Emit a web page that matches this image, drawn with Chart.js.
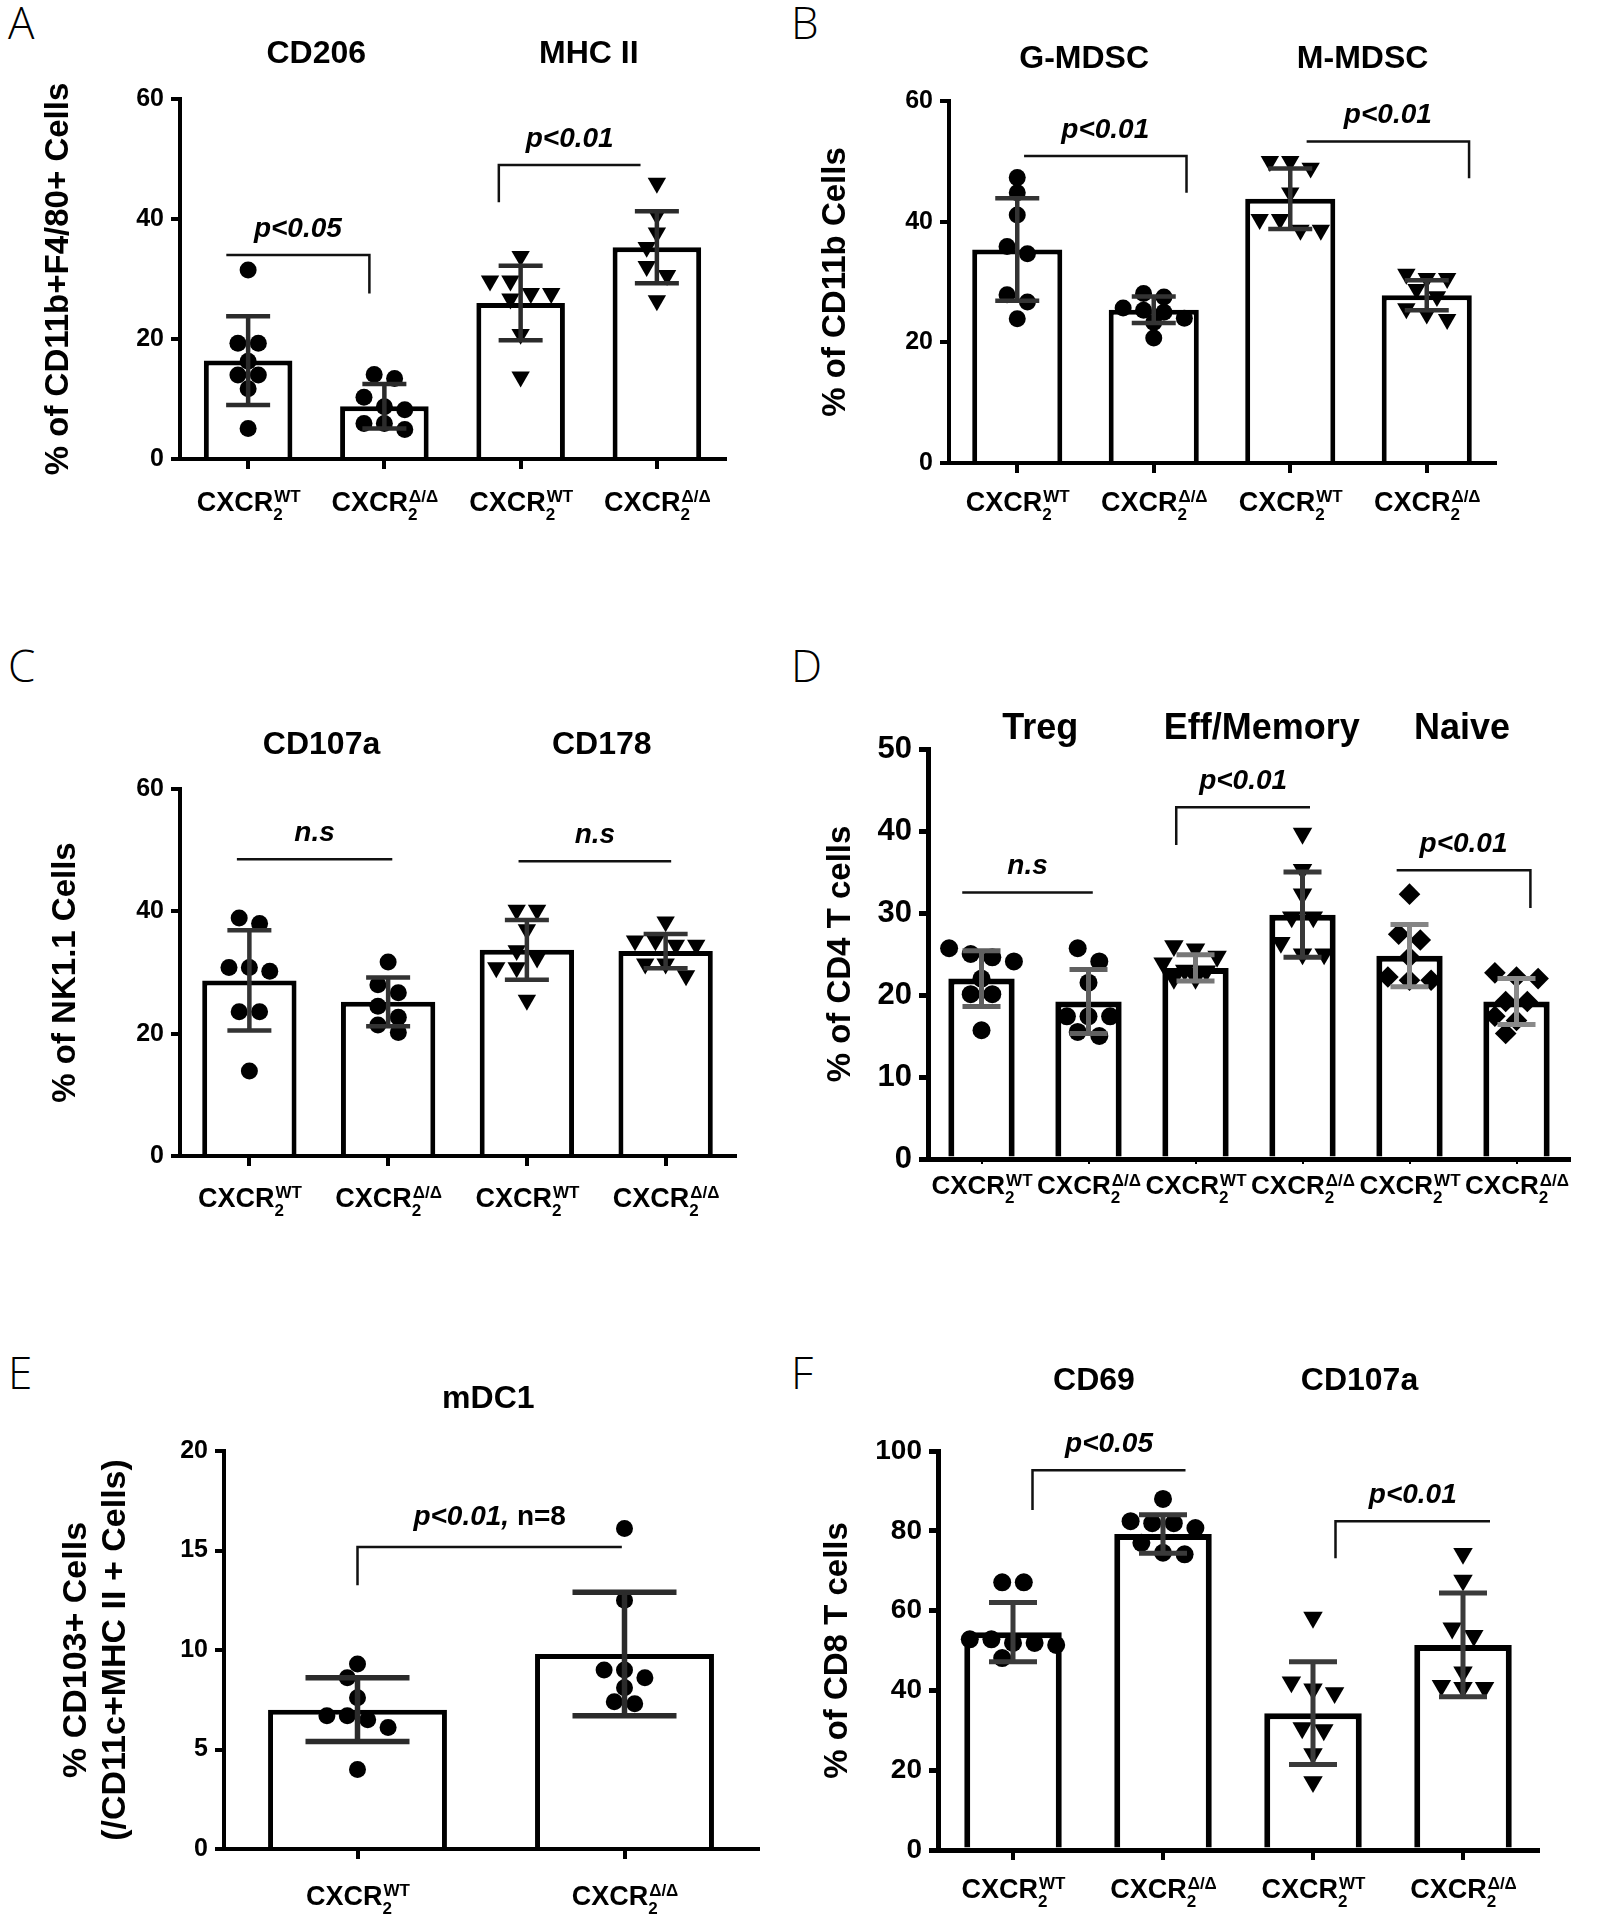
<!DOCTYPE html>
<html>
<head>
<meta charset="utf-8">
<script src="https://cdn.jsdelivr.net/npm/chart.js@4.4.1/dist/chart.umd.min.js"></script>
<style>
  body { margin: 0; background: #fff; }
  #fig { position: relative; width: 1601px; height: 1920px; background: #fff; }
  canvas { position: absolute; }
  .letter { position: absolute; font-family: "Open Sans", "DejaVu Sans", sans-serif; font-weight: 300; font-size: 44px; line-height: 44px; color: #000; }
</style>
</head>
<body>
<div id="fig">
  <div class="letter" style="left:8px;top:0px">A</div>
  <div class="letter" style="left:791px;top:0px">B</div>
  <div class="letter" style="left:8px;top:643px">C</div>
  <div class="letter" style="left:791px;top:643px">D</div>
  <div class="letter" style="left:8px;top:1350px">E</div>
  <div class="letter" style="left:791px;top:1350px">F</div>
  <canvas id="cA" width="800" height="540" style="left:0px;top:0px"></canvas>
  <canvas id="cB" width="801" height="540" style="left:800px;top:0px"></canvas>
  <canvas id="cC" width="800" height="600" style="left:0px;top:640px"></canvas>
  <canvas id="cD" width="801" height="600" style="left:800px;top:640px"></canvas>
  <canvas id="cE" width="800" height="580" style="left:0px;top:1340px"></canvas>
  <canvas id="cF" width="801" height="580" style="left:800px;top:1340px"></canvas>
</div>
<script>
// genotype superscripts, repeated across each pair of bars
const genotypes = ["WT", "Δ/Δ"];

// A: macrophages
const aGroups = ["CD206", "MHC II"];
const aMeans = [16.4, 8.8, 26.0, 35.3];
const aSD = [7.4, 3.7, 6.2, 6.0];
const aPoints = [
    [31.5, 19.3, 19.3, 16.3, 14.0, 14.0, 11.7, 5.1],
    [14.1, 13.4, 10.3, 8.7, 8.2, 5.9, 5.9, 4.9],
    [33.8, 29.7, 29.7, 27.6, 27.6, 26.7, 20.8, 13.7],
    [46.0, 40.7, 37.7, 35.3, 32.1, 30.6, 26.4]
];
const aTicks = [0, 20, 40, 60];
// [from, to, y, drop side, drop to, italic text, plain text]
const aSig = [
    [-0.16, 0.89, 34.0, "right", 27.6, "p<0.05", ""],
    [1.84, 2.88, 49.0, "left", 42.8, "p<0.01", ""]
];

// B: MDSC
const bGroups = ["G-MDSC", "M-MDSC"];
const bMeans = [35.4, 25.4, 43.8, 27.8];
const bSD = [8.5, 2.2, 5.0, 2.5];
const bPoints = [
    [47.3, 44.8, 41.1, 35.9, 34.7, 27.9, 26.7, 23.9],
    [28.1, 27.5, 25.7, 25.3, 25.0, 24.0, 23.3, 20.7],
    [50.0, 50.0, 48.9, 44.8, 40.4, 40.4, 38.6, 38.6],
    [31.3, 30.6, 30.6, 28.8, 27.6, 25.6, 24.7, 23.8]
];
const bTicks = [0, 20, 40, 60];
const bSig = [
    [0.05, 1.24, 50.9, "right", 44.8, "p<0.01", ""],
    [2.12, 3.31, 53.3, "right", 47.2, "p<0.01", ""]
];

// C: NK cells
const cGroups = ["CD107a", "CD178"];
const cMeans = [28.7, 25.2, 33.7, 33.5];
const cSD = [8.2, 4.0, 4.9, 2.8];
const cPoints = [
    [38.9, 38.0, 30.8, 30.8, 30.2, 23.6, 23.6, 13.9],
    [31.7, 28.0, 26.7, 24.5, 22.7, 21.4, 20.2],
    [40.2, 40.2, 37.0, 33.6, 32.4, 30.8, 30.8, 25.5],
    [38.3, 35.2, 35.2, 34.5, 34.5, 31.4, 31.4, 29.5]
];
const cTicks = [0, 20, 40, 60];
const cSig = [
    [-0.09, 1.03, 48.5, null, null, "n.s", ""],
    [1.94, 3.04, 48.2, null, null, "n.s", ""]
];

// D: CD4 T cells
const dGroups = ["Treg", "Eff/Memory", "Naive"];
const dMeans = [22.0, 19.2, 23.3, 29.8, 24.8, 19.2];
const dSD = [3.4, 3.9, 1.6, 5.2, 3.8, 2.8];
const dPoints = [
    [25.7, 25.0, 24.6, 24.1, 22.0, 20.1, 20.1, 15.7],
    [25.7, 24.1, 21.5, 17.4, 17.4, 17.4, 15.5, 15.0],
    [26.0, 25.6, 24.7, 23.9, 23.0, 22.9, 22.0, 22.0],
    [39.7, 35.3, 32.3, 29.5, 29.5, 26.4, 25.0, 25.0],
    [32.3, 27.4, 26.7, 24.6, 22.2, 21.8, 21.8],
    [22.7, 22.2, 22.0, 19.2, 19.2, 17.4, 16.9, 15.3]
];
const dTicks = [0, 10, 20, 30, 40, 50];
const dSig = [
    [-0.18, 1.04, 32.5, null, null, "n.s", ""],
    [1.82, 3.07, 42.9, "left", 38.3, "p<0.01", ""],
    [3.88, 5.13, 35.2, "right", 30.6, "p<0.01", ""]
];

// E: mDC1
const eGroups = ["mDC1"];
const eMeans = [7.0, 9.8];
const eSD = [1.6, 3.1];
const ePoints = [
    [9.3, 8.6, 7.6, 6.7, 6.7, 6.5, 6.1, 4.0],
    [16.1, 12.5, 9.0, 9.0, 8.6, 8.1, 7.4, 7.3]
];
const eTicks = [0, 5, 10, 15, 20];
const eSig = [
    [0, 0.99, 15.17, "left", 13.26, "p<0.01,", " n=8"]
];

// F: CD8 T cells
const fGroups = ["CD69", "CD107a"];
const fMeans = [54.6, 79.2, 34.3, 51.4];
const fSD = [7.4, 4.8, 12.9, 13.0];
const fPoints = [
    [67.1, 67.1, 52.8, 52.8, 51.9, 51.9, 51.4, 48.1],
    [88.0, 82.4, 81.9, 81.9, 80.7, 77.0, 74.5, 74.1],
    [58.3, 42.1, 40.3, 39.4, 30.6, 30.1, 24.1, 17.1],
    [74.3, 67.6, 55.6, 53.7, 44.6, 41.2, 40.7, 40.7]
];
const fTicks = [0, 20, 40, 60, 80, 100];
const fSig = [
    [0.13, 1.15, 95.2, "left", 85.2, "p<0.05", ""],
    [2.15, 3.18, 82.4, "left", 73.1, "p<0.01", ""]
];

const FONT = '"Liberation Sans", Arial, Helvetica, sans-serif';

const MARKERS = {
    dot: { style: "circle", rot: 0, scale: 1 },
    tri: { style: "triangle", rot: 180, scale: 1.25 },
    dia: { style: "rectRot", rot: 0, scale: 1.2 }
};

// spread the dots of one column sideways, row by row, so they do not overlap much
function swarm(values, center, pxY, pxCat, diam) {
    const step = diam * 1.2;
    const minDist = diam * 0.85;
    const sorted = values.slice().sort((a, b) => b - a);
    const rows = [];
    sorted.forEach(v => {
        const last = rows[rows.length - 1];
        if (last && (last[0] - v) * pxY < diam * 0.75) last.push(v);
        else rows.push([v]);
    });
    const placed = [];
    const shifts = [0, -0.5, 0.5, -1, 1];
    rows.forEach(row => {
        const k = row.length;
        let best = null, bestCost = Infinity;
        for (const sh of shifts) {
            const xs = row.map((v, j) => (j - (k - 1) / 2 + sh) * step);
            let cost = 0;
            row.forEach((v, j) => placed.forEach(q => {
                const d = Math.hypot(xs[j] - q.x, (v - q.v) * pxY);
                if (d < minDist) cost += minDist - d;
            }));
            if (cost === 0) { best = xs; break; }
            if (cost < bestCost) { bestCost = cost; best = xs; }
        }
        row.forEach((v, j) => placed.push({ x: best[j], v: v }));
    });
    return placed.map(q => ({ x: center + q.x / pxCat, y: q.v }));
}

function drawGenotype(ctx, cx, cy, sup, size) {
    const big = "bold " + size + "px " + FONT;
    const small = "bold " + Math.round(size * 0.64) + "px " + FONT;
    ctx.font = big;
    const w1 = ctx.measureText("CXCR").width;
    ctx.font = small;
    const w2 = Math.max(ctx.measureText("2").width, ctx.measureText(sup).width);
    const x0 = cx - (w1 + w2) / 2;
    const base = cy + size * 0.36;
    ctx.textAlign = "left";
    ctx.textBaseline = "alphabetic";
    ctx.font = big;
    ctx.fillText("CXCR", x0, base);
    ctx.font = small;
    ctx.fillText("2", x0 + w1, base + size * 0.34);
    ctx.fillText(sup, x0 + w1 + 1, base - size * 0.32);
}

function overlay(p) {
    return {
        id: "overlay",
        afterDatasetsDraw(chart) {
            const ctx = chart.ctx;
            const x = chart.scales.x, y = chart.scales.y;
            ctx.save();
            ctx.lineCap = "butt";
            p.means.forEach((m, i) => {
                const cx = x.getPixelForValue(i);
                const top = y.getPixelForValue(m + p.sd[i]);
                const bot = y.getPixelForValue(m - p.sd[i]);
                ctx.strokeStyle = p.errColor[i % p.errColor.length];
                ctx.lineWidth = p.errWidth;
                ctx.beginPath();
                ctx.moveTo(cx, top); ctx.lineTo(cx, bot);
                ctx.moveTo(cx - p.cap, top); ctx.lineTo(cx + p.cap, top);
                ctx.moveTo(cx - p.cap, bot); ctx.lineTo(cx + p.cap, bot);
                ctx.stroke();
            });
            ctx.restore();
        },
        afterDraw(chart) {
            const ctx = chart.ctx;
            const x = chart.scales.x, xs = chart.scales.xs, y = chart.scales.y;
            const area = chart.chartArea;
            ctx.save();
            ctx.fillStyle = "#000";

            // significance brackets
            ctx.strokeStyle = "#111";
            ctx.lineWidth = 2.5;
            p.sig.forEach(s => {
                const x1 = xs.getPixelForValue(s[0]), x2 = xs.getPixelForValue(s[1]);
                const yy = y.getPixelForValue(s[2]);
                ctx.beginPath();
                if (s[3] === "left") {
                    ctx.moveTo(x1, y.getPixelForValue(s[4])); ctx.lineTo(x1, yy); ctx.lineTo(x2, yy);
                } else if (s[3] === "right") {
                    ctx.moveTo(x1, yy); ctx.lineTo(x2, yy); ctx.lineTo(x2, y.getPixelForValue(s[4]));
                } else {
                    ctx.moveTo(x1, yy); ctx.lineTo(x2, yy);
                }
                ctx.stroke();
                const it = "italic bold " + p.sigSize + "px " + FONT;
                const pl = "bold " + p.sigSize + "px " + FONT;
                ctx.font = it;
                const w1 = ctx.measureText(s[5]).width;
                ctx.font = pl;
                const w2 = s[6] ? ctx.measureText(s[6]).width : 0;
                const tx = (x1 + x2) / 2 - (w1 + w2) / 2;
                const ty = yy - p.sigGap;
                ctx.textAlign = "left";
                ctx.textBaseline = "middle";
                ctx.font = it;
                ctx.fillText(s[5], tx, ty);
                if (s[6]) { ctx.font = pl; ctx.fillText(s[6], tx + w1, ty); }
            });

            // group headings
            ctx.textAlign = "center";
            ctx.textBaseline = "middle";
            ctx.font = "bold " + p.headSize + "px " + FONT;
            p.groups.forEach((g, i) => {
                ctx.fillText(g, xs.getPixelForValue(p.groupAt[i]), area.top - p.headGap);
            });

            // category labels with sub/superscripts
            p.means.forEach((m, i) => {
                drawGenotype(ctx, x.getPixelForValue(i), area.bottom + p.labelGap,
                    genotypes[i % 2], p.labelSize);
            });
            ctx.restore();
        }
    };
}

function makePanel(p) {
    const n = p.means.length;
    const box = p.box, plot = p.plot;
    const pxY = (plot.b - plot.t) / p.ticks[p.ticks.length - 1];
    const pxCat = (plot.r - plot.l) / n;
    const datasets = [{
        type: "bar",
        data: p.means,
        backgroundColor: "#fff",
        borderColor: "#000",
        borderWidth: p.barBorder,
        barPercentage: p.barPct,
        categoryPercentage: 1,
        grouped: false,
        order: 2
    }];
    p.points.forEach((vals, i) => {
        const mk = MARKERS[p.markers[i]];
        datasets.push({
            type: "scatter",
            xAxisID: "xs",
            data: swarm(vals, i, pxY, pxCat, p.dot * 2),
            pointStyle: mk.style,
            pointRotation: mk.rot,
            pointRadius: p.dot * mk.scale,
            pointBackgroundColor: "#000",
            pointBorderWidth: 0,
            order: 1
        });
    });
    const titleFont = { family: FONT, weight: "bold", size: p.yTitleSize, lineHeight: p.yTitleLH };
    const lh = p.yTitleSize * p.yTitleLH;

    new Chart(document.getElementById(p.canvas), {
        type: "bar",
        data: { labels: p.means.map((m, i) => "CXCR2 " + genotypes[i % 2]), datasets: datasets },
        options: {
            responsive: false,
            animation: false,
            events: [],
            layout: {
                padding: {
                    left: 0,
                    top: plot.t - box.y,
                    right: box.x + box.w - plot.r,
                    bottom: box.y + box.h - plot.b - p.xTick
                }
            },
            plugins: { legend: { display: false }, tooltip: { enabled: false } },
            scales: {
                x: {
                    type: "category",
                    offset: true,
                    z: 1,
                    grid: { offset: false, drawOnChartArea: false, drawTicks: true, tickLength: p.xTick, color: "#000", lineWidth: p.xTickW },
                    border: { color: "#000", width: p.axisW },
                    ticks: { display: false },
                    afterFit(s) { s.height = p.xTick; }
                },
                // hidden twin of the category axis, so dots can sit beside the column centre
                xs: { type: "linear", display: false, offset: false, bounds: "data", min: -0.5, max: n - 0.5, ticks: { stepSize: 0.5 } },
                y: {
                    min: 0,
                    max: p.ticks[p.ticks.length - 1],
                    afterBuildTicks(s) { s.ticks = p.ticks.map(v => ({ value: v })); },
                    ticks: { color: "#000", font: { family: FONT, weight: "bold", size: p.tickSize }, padding: 7 },
                    grid: { drawOnChartArea: false, drawTicks: true, tickLength: 9, color: "#000", lineWidth: p.axisW },
                    border: { color: "#000", width: p.axisW },
                    title: {
                        display: true, text: p.yTitle, color: "#000", font: titleFont,
                        padding: { top: p.yTitleX - box.x - lh / 2, bottom: 0 }
                    },
                    afterFit(s) { s.width = plot.l - box.x; }
                }
            }
        },
        plugins: [overlay(p)]
    });
}

const common = {
    barBorder: 5, axisW: 4, xTick: 10, xTickW: 4, errWidth: 4.5, cap: 22,
    tickSize: 25, labelSize: 27, headSize: 32, sigSize: 28, sigGap: 26,
    yTitleSize: 33, yTitleLH: 1.2, dot: 8.5
};

makePanel(Object.assign({}, common, {
    canvas: "cA", box: { x: 0, y: 0, w: 800, h: 540 }, plot: { l: 180, t: 99, r: 725, b: 459 },
    means: aMeans, sd: aSD, points: aPoints, ticks: aTicks, sig: aSig, groups: aGroups,
    groupAt: [0.5, 2.5], headGap: 45, labelGap: 42, barPct: 0.65,
    markers: ["dot", "dot", "tri", "tri"], errColor: ["#2b2b2b"],
    yTitle: "% of CD11b+F4/80+ Cells", yTitleX: 59
}));

makePanel(Object.assign({}, common, {
    canvas: "cB", box: { x: 800, y: 0, w: 801, h: 540 }, plot: { l: 949, t: 101, r: 1495, b: 463 },
    means: bMeans, sd: bSD, points: bPoints, ticks: bTicks, sig: bSig, groups: bGroups,
    groupAt: [0.49, 2.53], headGap: 42, labelGap: 38, barPct: 0.66,
    markers: ["dot", "dot", "tri", "tri"], errColor: ["#333"],
    yTitle: "% of CD11b Cells", yTitleX: 836
}));

makePanel(Object.assign({}, common, {
    canvas: "cC", box: { x: 0, y: 640, w: 800, h: 600 }, plot: { l: 180, t: 789, r: 735, b: 1156 },
    means: cMeans, sd: cSD, points: cPoints, ticks: cTicks, sig: cSig, groups: cGroups,
    groupAt: [0.52, 2.54], headGap: 44, labelGap: 41, barPct: 0.68,
    markers: ["dot", "dot", "tri", "tri"], errColor: ["#333"],
    yTitle: "% of NK1.1 Cells", yTitleX: 66
}));

makePanel(Object.assign({}, common, {
    canvas: "cD", box: { x: 800, y: 640, w: 801, h: 600 }, plot: { l: 928, t: 749, r: 1570, b: 1159 },
    means: dMeans, sd: dSD, points: dPoints, ticks: dTicks, sig: dSig, groups: dGroups,
    groupAt: [0.55, 2.62, 4.49], headGap: 20, labelGap: 26, barPct: 0.62,
    barBorder: 6, axisW: 5, xTick: 5, xTickW: 2, errWidth: 5, cap: 19, dot: 9,
    tickSize: 31, labelSize: 26, headSize: 36,
    markers: ["dot", "dot", "tri", "tri", "dia", "dia"],
    errColor: ["#606060", "#606060", "#777", "#383838", "#858585", "#8a8a8a"],
    yTitle: "% of CD4 T cells", yTitleX: 841
}));

makePanel(Object.assign({}, common, {
    canvas: "cE", box: { x: 0, y: 1340, w: 800, h: 580 }, plot: { l: 224, t: 1451, r: 758, b: 1849 },
    means: eMeans, sd: eSD, points: ePoints, ticks: eTicks, sig: eSig, groups: eGroups,
    groupAt: [0.49], headGap: 52, labelGap: 46, barPct: 0.67, errWidth: 5.5, cap: 52, sigGap: 30,
    markers: ["dot", "dot"], errColor: ["#2b2b2b"],
    yTitle: ["% CD103+ Cells", "(/CD11c+MHC II + Cells)"], yTitleX: 77, yTitleSize: 34, yTitleLH: 1.15
}));

makePanel(Object.assign({}, common, {
    canvas: "cF", box: { x: 800, y: 1340, w: 801, h: 580 }, plot: { l: 938, t: 1451, r: 1538, b: 1850 },
    means: fMeans, sd: fSD, points: fPoints, ticks: fTicks, sig: fSig, groups: fGroups,
    groupAt: [0.54, 2.31], headGap: 70, labelGap: 38, barPct: 0.65,
    barBorder: 6, axisW: 5, errWidth: 5, cap: 24, dot: 9, tickSize: 28,
    markers: ["dot", "dot", "tri", "tri"], errColor: ["#3a3a3a"],
    yTitle: "% of CD8 T cells", yTitleX: 838
}));
</script>
</body>
</html>
